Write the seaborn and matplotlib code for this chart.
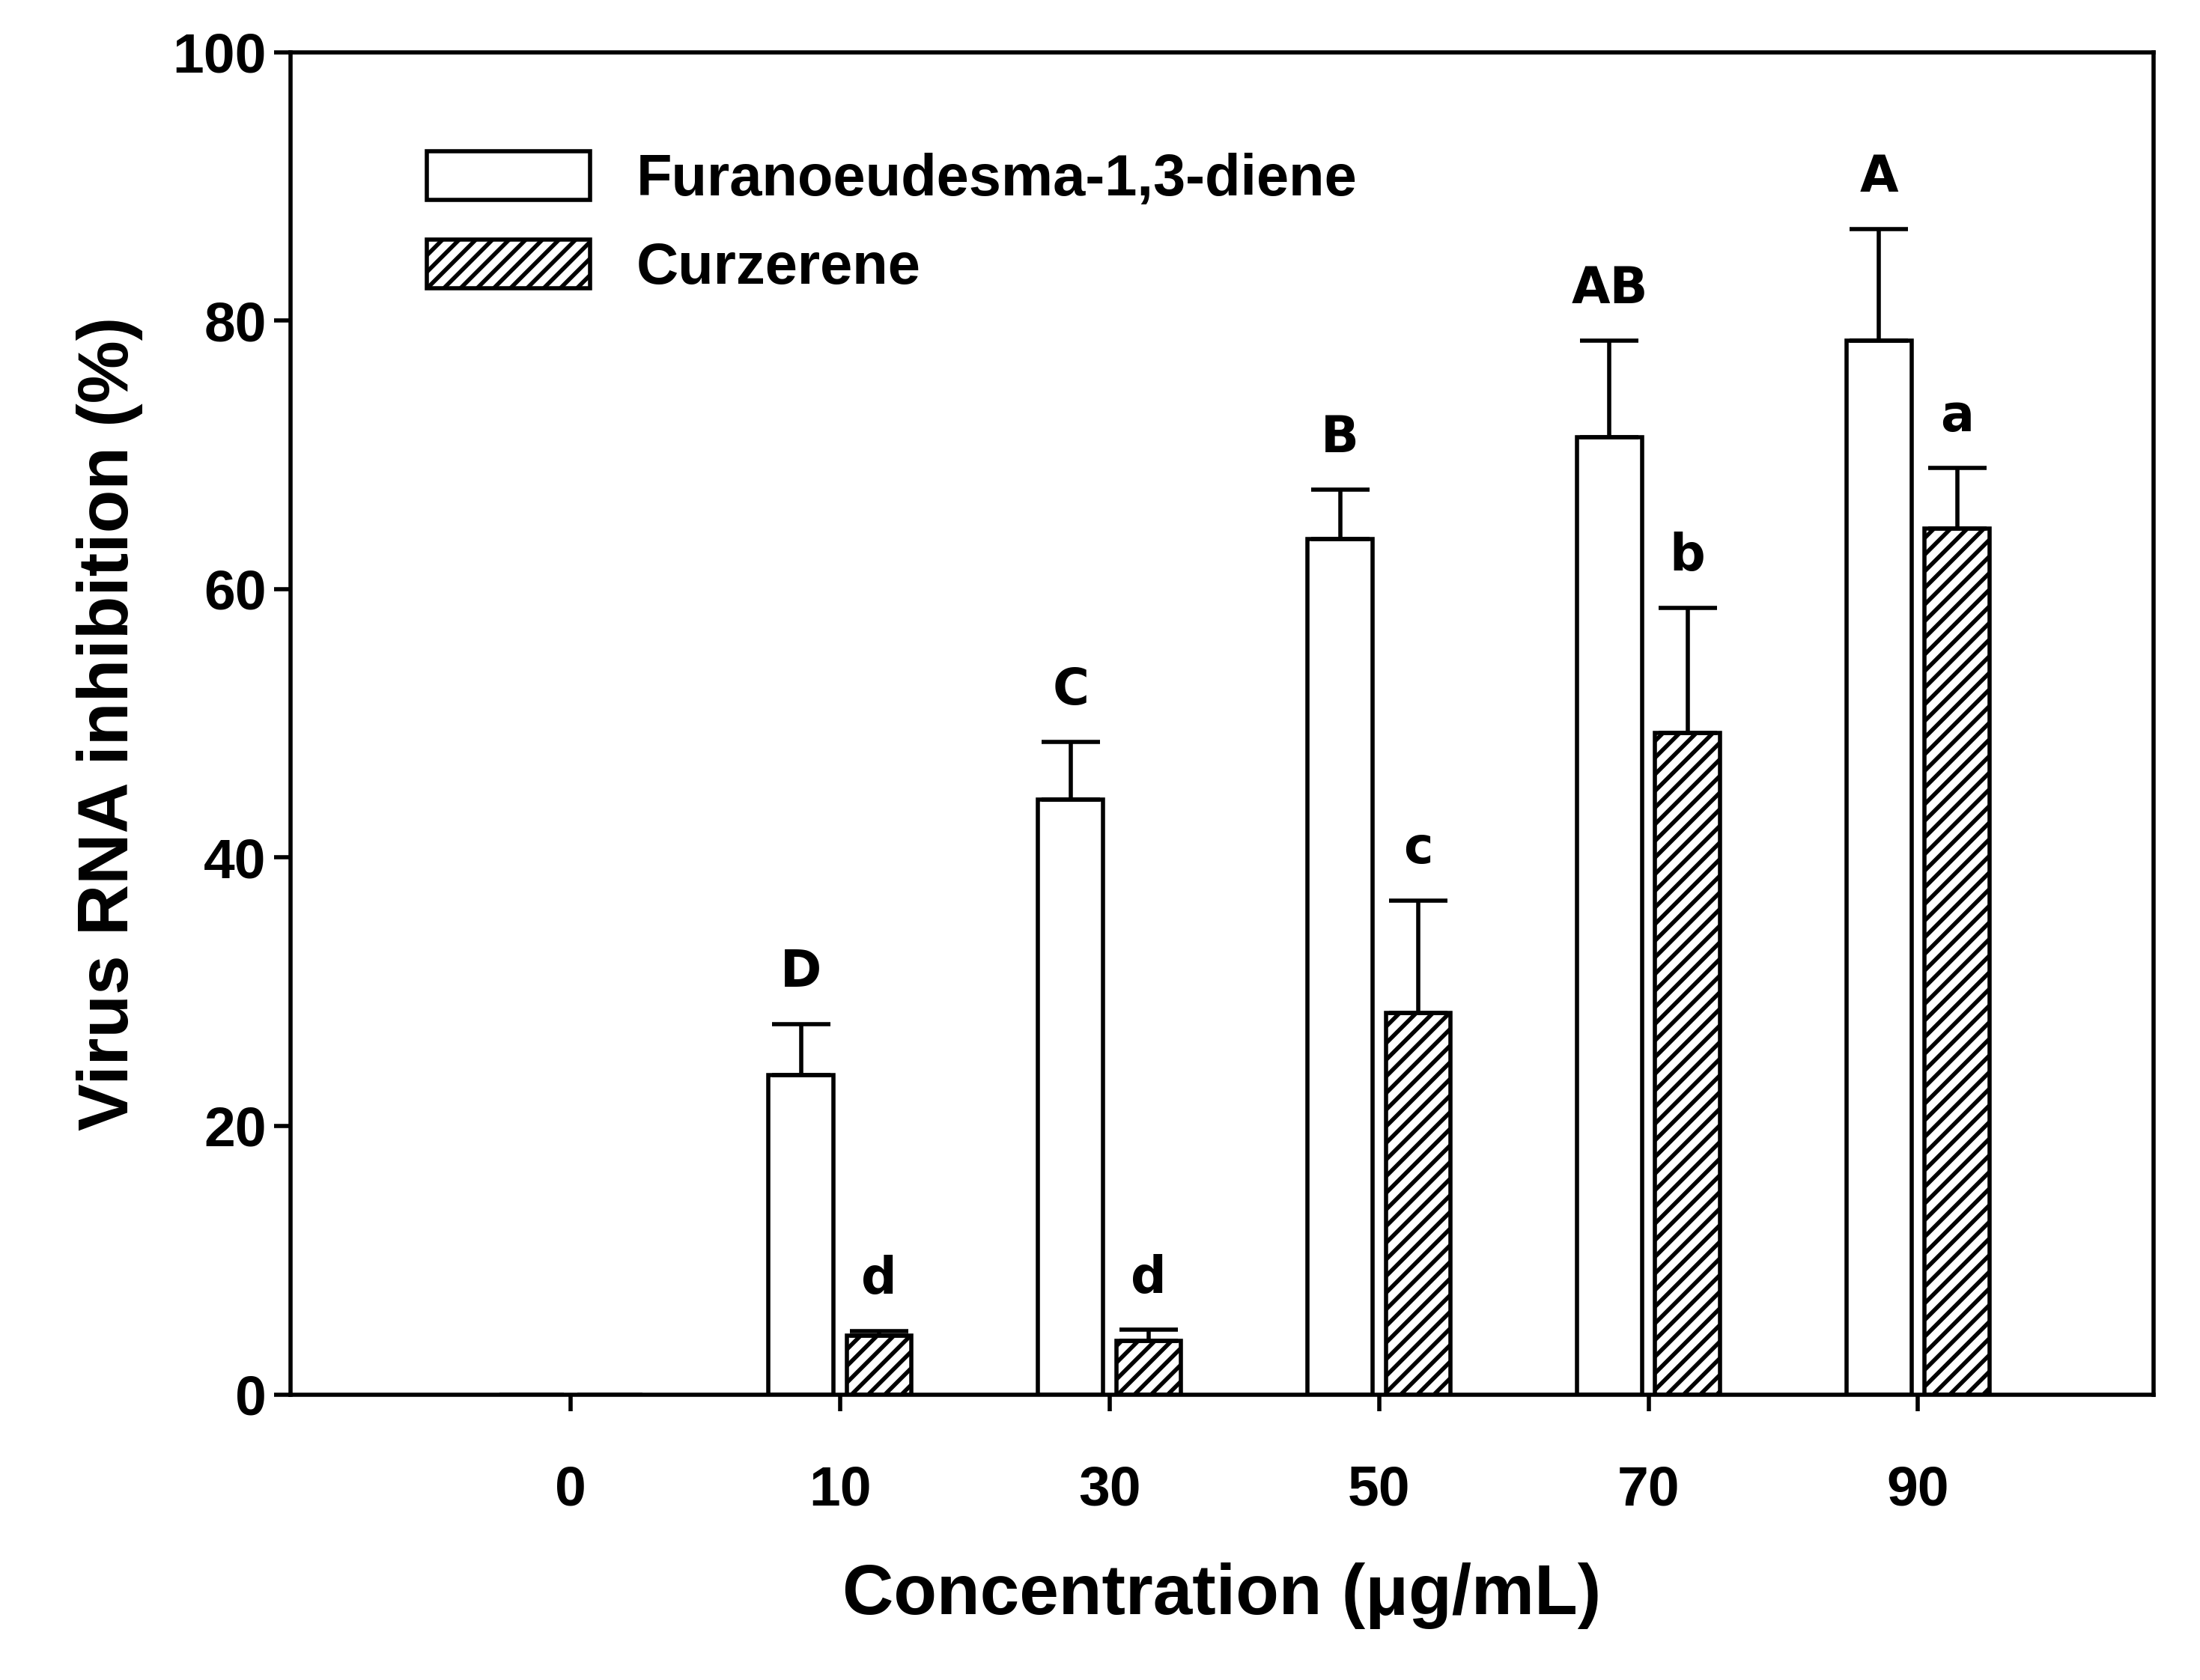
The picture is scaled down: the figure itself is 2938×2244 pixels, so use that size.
import numpy as np
import pandas as pd
import seaborn as sns
import matplotlib
matplotlib.use("Agg")
import matplotlib.pyplot as plt

conc = ["0", "10", "30", "50", "70", "90"]
furano = [0, 23.8, 44.3, 63.7, 71.3, 78.5]
furano_err = [0, 3.8, 4.3, 3.7, 7.2, 8.3]
curz = [0, 4.4, 4.0, 28.4, 49.3, 64.5]
curz_err = [0, 0.3, 0.8, 8.4, 9.3, 4.5]
furano_letters = ["", "D", "C", "B", "AB", "A"]
curz_letters = ["", "d", "d", "c", "b", "a"]
names = ["Furanoeudesma-1,3-diene", "Curzerene"]

sns.set_style("ticks")
plt.rcParams["font.family"] = ["Liberation Sans", "DejaVu Sans"]
plt.rcParams["hatch.linewidth"] = 2.0
for k in ["text.color", "axes.labelcolor", "xtick.color", "ytick.color", "axes.edgecolor"]:
    plt.rcParams[k] = "black"

df = pd.DataFrame({
    "conc": conc * 2,
    "val": furano + curz,
    "series": [names[0]] * 6 + [names[1]] * 6,
})

fig = plt.figure(figsize=(14.69, 11.22), dpi=200)
ax = fig.add_axes([0.132, 0.170, 0.847, 0.799])
sns.barplot(data=df, x="conc", y="val", hue="series", order=conc,
            hue_order=names, width=0.58, gap=0.17, palette=["white", "white"],
            edgecolor="black", linewidth=2, errorbar=None, ax=ax)

pos = np.arange(len(conc))
off = 0.145
for i, p in enumerate(ax.patches[:12]):
    if i >= 6:
        p.set_hatch("///")
for s, (vals, errs, lets) in enumerate([(furano, furano_err, furano_letters), (curz, curz_err, curz_letters)]):
    xs = pos + (-off if s == 0 else off)
    for x, v, e, l in zip(xs, vals, errs, lets):
        if v <= 0:
            continue
        ax.errorbar([x], [v], yerr=[[0], [e]], fmt="none", ecolor="black",
                    elinewidth=2, capsize=14, capthick=2)
        ax.text(x, v + e + 2.0, l, ha="center", va="bottom", fontsize=24,
                fontweight="bold", family=["DejaVu Sans"], color="black")

ax.set_xlim(-1.04, 5.875)
ax.set_ylim(0, 100)
ax.set_yticks([0, 20, 40, 60, 80, 100])
for sp in ax.spines.values():
    sp.set_linewidth(2)
    sp.set_visible(True)
ax.tick_params(axis="both", width=2, length=8, labelsize=27)
ax.tick_params(axis="x", pad=26)
for t in ax.get_xticklabels() + ax.get_yticklabels():
    t.set_fontweight("bold")
ax.set_xlabel("Concentration (\u03bcg/mL)", fontsize=34, fontweight="bold", labelpad=22)
ax.set_ylabel("Virus RNA inhibition (%)", fontsize=34, fontweight="bold", labelpad=14)

h, lab = ax.get_legend_handles_labels()
h[1].set_hatch("///")
leg = ax.legend(h, lab, loc="upper left", bbox_to_anchor=(0.045, 0.965), frameon=False,
                handlelength=2.8, handleheight=0.9, labelspacing=0.55, handletextpad=0.8,
                prop={"weight": "bold", "size": 28})
fig.savefig("out.png", dpi=200)
